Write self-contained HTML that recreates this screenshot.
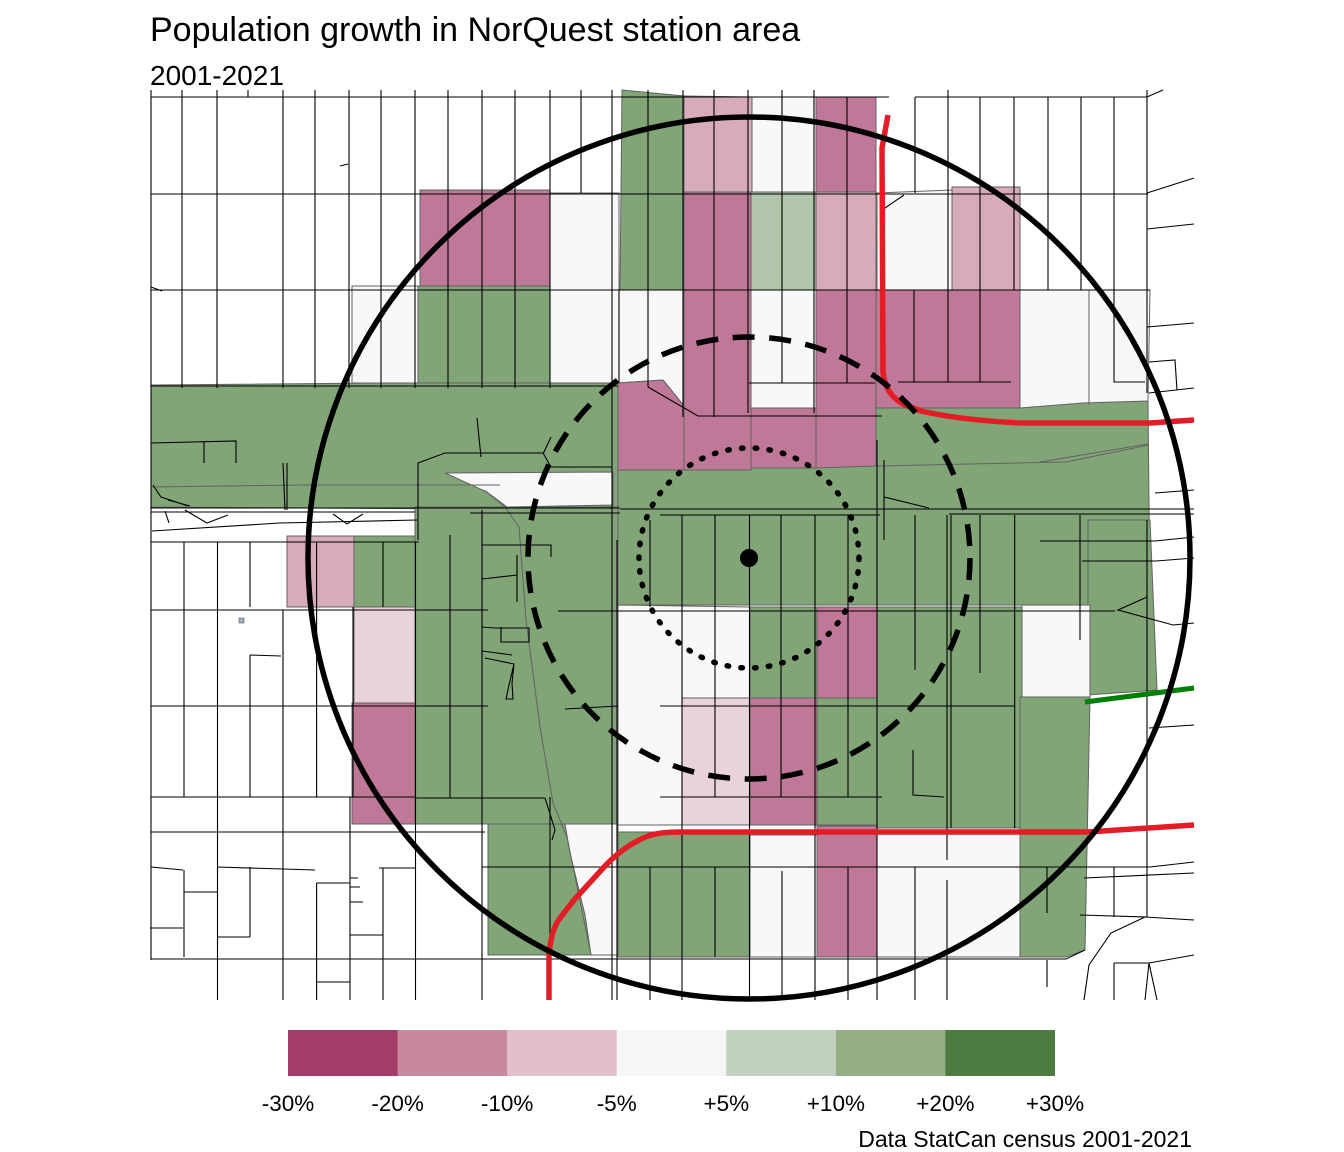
<!DOCTYPE html>
<html><head><meta charset="utf-8">
<style>
html,body{margin:0;padding:0;background:#fff;}
svg{display:block;}
text{font-family:"Liberation Sans",Arial,sans-serif;fill:#000;}
</style></head>
<body>
<svg width="1344" height="1152" viewBox="0 0 1344 1152" xmlns="http://www.w3.org/2000/svg">
<rect width="1344" height="1152" fill="#fff"/>
<text x="150" y="41" font-size="34">Population growth in NorQuest station area</text>
<text x="150" y="85" font-size="28">2001-2021</text>

<g stroke="#626262" stroke-width="1">
<g fill="#82a578">
<polygon points="151,385 618,381 618,510 151,507"/>
<polygon points="622,90 684,96 684,290 620,290"/>
<polygon points="418,286 550,286 550,383 418,383"/>
<polygon points="618,470 876,464 876,405 1148,401 1150,605 618,605"/>
<polygon points="415,507 618,507 618,824 415,824"/>
<polygon points="354,536 415,536 415,607 354,607"/>
<polygon points="1088,520 1150,520 1157,690 1088,695"/>
<polygon points="750,607 817,607 817,698 750,698"/>
<polygon points="877,607 1022,607 1022,828 877,828"/>
<polygon points="817,698 877,698 877,825 817,825"/>
<polygon points="1020,697 1090,697 1085,950 1066,957 1020,957"/>
<polygon points="488,824 618,824 618,955 488,955"/>
<polygon points="618,832 750,832 750,957 618,957"/>
</g>
<g fill="#f8f8f8">
<polygon points="550,193 619,193 619,383 550,383"/>
<polygon points="352,286 418,286 418,383 352,383"/>
<polygon points="619,290 684,290 684,406 663,380 619,383"/>
<polygon points="752,97 816,97 816,192 752,192"/>
<polygon points="751,290 816,290 816,408 751,408"/>
<polygon points="877,193 952,190 952,290 877,290"/>
<polygon points="1020,290 1150,290 1148,401 1083,403 1020,408"/>
<polygon points="445,473 613,472 613,505 507,507 487,492"/>
<polygon points="618,605 750,607 750,698 682,698 682,825 618,825"/>
<polygon points="1022,605 1090,605 1090,697 1022,697"/>
<polygon points="565,824 618,824 618,955 591,955 585,915 570,853"/>
<polygon points="750,835 817,835 817,957 750,957"/>
<polygon points="877,832 1020,832 1020,957 877,957"/>
</g>
<g fill="#bf7898">
<polygon points="420,190 550,190 550,286 420,286"/>
<polygon points="816,97 876,97 876,192 816,192"/>
<polygon points="684,192 751,192 751,470 684,470"/>
<polygon points="816,290 876,290 876,466 816,468"/>
<polygon points="751,408 816,408 816,468 751,468"/>
<polygon points="618,383 663,380 684,406 684,470 618,470"/>
<polygon points="876,290 1020,290 1020,408 876,408"/>
<polygon points="817,607 877,607 877,698 817,698"/>
<polygon points="750,698 817,698 817,825 750,825"/>
<polygon points="817,826 877,826 877,957 817,957"/>
<polygon points="352,703 415,703 415,824 352,824"/>
</g>
<g fill="#d8abbb">
<polygon points="684,96 752,97 752,192 684,192"/>
<polygon points="816,192 876,192 876,290 816,290"/>
<polygon points="952,187 1020,187 1020,290 952,290"/>
<polygon points="287,536 354,536 354,607 287,607"/>
</g>
<g fill="#e9d3db">
<polygon points="354,607 415,607 415,703 354,703"/>
<polygon points="682,698 750,698 750,825 682,825"/>
</g>
<polygon fill="#b0c5a9" points="751,192 816,192 816,290 751,290"/>
<g fill="none">
<polyline points="151,487 300,485 500,485"/>
<polyline points="876,466 1066,462 1149,445"/>
<polyline points="484,490 505,507 519,527 520,540 526,620 540,727 553,803 567,837 591,955"/>
<line x1="1089" y1="290" x2="1089" y2="405"/>
<line x1="1040" y1="462" x2="1148" y2="444"/>
</g>
</g>

<rect x="239" y="618" width="5" height="5" fill="#9fb3c0" stroke="#556" stroke-width="0.6"/>

<g stroke="#000" stroke-width="1.1" fill="none">
<path d="M151,90V960 M182,90V388 M217,90V388 M248,90V97 M283,90V388 M315,90V388 M349,90V388 M381,90V388 M415,90V388 M448,90V388 M482,90V388 M515,90V388 M550,90V388 M581,90V193 M612,90V1000 M619,290V383 M648,90V387 M683,90V417 M714,90V417 M748,90V413 M782,90V383 M814,90V413 M847,97V383 M915,97V193 M948,90V290 M980,97V290 M1014,97V290 M1048,97V290 M1081,97V290 M1114,97V290 M1147,90V393 M914,290V382 M948,290V382 M980,290V382 M1114,290V382 H1145"/>
<path d="M151,97H889 M915,97H1147 L1163,90 M151,194H1148 M151,290H1150 M151,386H618 M749,383H875 M898,382H1011 M648,387L698,416H882 M885,208L904,195 M151,287L162,291 M340,166L348,164"/>
<path d="M1147,193L1194,178 M1147,229L1194,224 M1147,327L1194,323 M1149,362L1175,360L1177,390 M1149,393L1194,388 M1155,493L1194,490 M1040,541H1155L1194,537 M1147,597L1118,610L1173,625L1194,623 M1149,728L1194,725 M1147,520V917"/>
<path d="M418,540V463L445,453H543L551,467H612 M543,454L551,437 M477,418L481,457 M151,443L236,441V463 M204,442V463 M283,463L285,510 M287,463V510 M153,485L161,497L188,506 M168,500L190,506"/>
<path d="M151,508H620 M620,509H1194 M151,512H415 M470,513H620 M660,515H880 M949,514H1194 M884,497L929,508 M877,440V1000 M884,460V540"/>
<path d="M152,531L280,523L417,520 M151,542H419 M165,511L169,523 M185,510L190,513L207,523L228,515 M333,514L347,524L363,514"/>
<path d="M184,542V797 M184,870V957 M217.5,542V1000 M250,542V607 M250,655V797 M250,867V937 M283,610V1000 M316.6,542V797 M316.6,883V1000 M350,797V1000 M353,607V797 M383,542V607 M383,868V1000 M415.5,542V1000 M450,535V798 M482,510V1000 M550,797V1000 M617,540V1000 M650,520V607 M650,867V1000 M682,515V1000 M715,515V797 M715,867V957 M749.5,515V1000 M781,515V797 M782,871V1000 M815,515V1000 M848,515V797 M848,867V1000 M915,515V670 M913,750V795L944,797 M915,867V1000 M947,515V860 M947,880V1000 M951,515V828 M980,515V673 M1014.7,515V828 M1047,867V913 M1047,960V987 M1080,515V640 M1114,867V917"/>
<path d="M151,610H488 M558,611H1115 M151,706H488 M565,709L618,706 M660,706H1014 M151,797H415 M415,798H545 M660,797H882 M151,832H485 M151,867L183,870 M217,867L315,870 M379,868H415 M482,867H1150L1194,862 M151,959H1066L1085,950"/>
<path d="M482,545H551V557 M482,579L517,575 M517,555V602 M482,627L495,628H529V642H501V627 M485,658L514,664L509,685L506,699H513L512,683L514,664 M482,651L512,655 M250,655L281,656 M184,892H217 M150,928H183 M217,937H250 M316.6,883H350 M350,878H358 M350,887H360 M350,902H363 M350,935H383 M316.6,982H350 M545,798L555,830L552,840"/>
<path d="M1080,915L1145,917L1194,920 M1145,917L1111,933L1089,965L1084,1000 M1114,963H1149L1194,955 M1114,963V1000 M1149,963L1157,1000 M1149,963L1145,1000 M1084,878L1194,873 M1082,561H1156L1194,558"/>
</g>

<g stroke="#e31d25" stroke-width="5.5" fill="none" stroke-linejoin="round">
<path d="M888,115L882,148L883,372Q885,395 905,405L921,411Q960,420 1020,423H1150L1194,420"/>
<path d="M549,1000V955Q551,930 560,918L574,900L605,866Q625,845 648,836Q660,832 680,832H1087L1194,825"/>
</g>
<path d="M1085,702L1194,688" stroke="#008000" stroke-width="5" fill="none"/>

<circle cx="749" cy="558" r="441" fill="none" stroke="#000" stroke-width="5.5"/>
<circle cx="749" cy="558" r="221" fill="none" stroke="#000" stroke-width="5.5" stroke-dasharray="22 14.6"/>
<circle cx="749" cy="558" r="110" fill="none" stroke="#000" stroke-width="5.5" stroke-dasharray="1.5 12.3" stroke-linecap="round"/>
<circle cx="749" cy="558" r="9" fill="#000"/>

<rect x="288" y="1030" width="110" height="46" fill="#a33e6b"/>
<rect x="397.6" y="1030" width="110" height="46" fill="#c8889e"/>
<rect x="507.1" y="1030" width="110" height="46" fill="#e2c0cb"/>
<rect x="616.7" y="1030" width="110" height="46" fill="#f6f6f6"/>
<rect x="726.3" y="1030" width="110" height="46" fill="#c3d2be"/>
<rect x="835.9" y="1030" width="110" height="46" fill="#94ae86"/>
<rect x="945.4" y="1030" width="109.6" height="46" fill="#4e7b3f"/>
<g font-size="22.5" text-anchor="middle">
<text x="288" y="1111">-30%</text>
<text x="397.6" y="1111">-20%</text>
<text x="507.1" y="1111">-10%</text>
<text x="616.7" y="1111">-5%</text>
<text x="726.3" y="1111">+5%</text>
<text x="835.9" y="1111">+10%</text>
<text x="945.4" y="1111">+20%</text>
<text x="1055" y="1111">+30%</text>
</g>
<text x="1192" y="1147" font-size="23" text-anchor="end">Data StatCan census 2001-2021</text>
</svg>
</body></html>
